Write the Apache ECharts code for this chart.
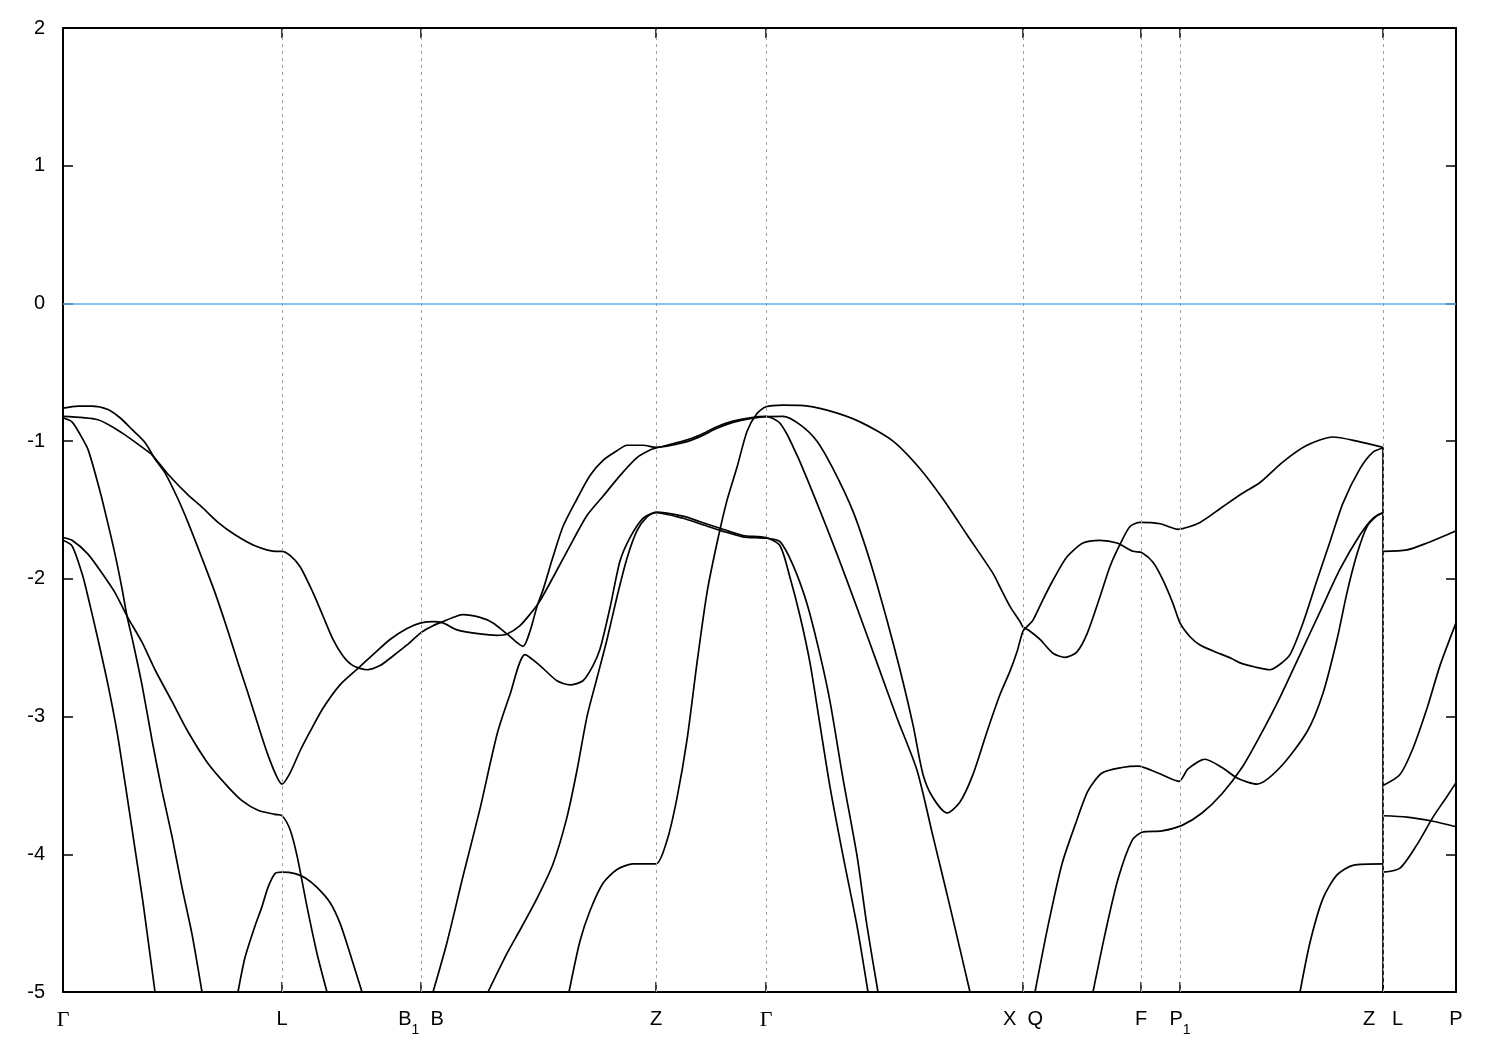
<!DOCTYPE html>
<html><head><meta charset="utf-8">
<script src="https://cdn.jsdelivr.net/npm/echarts@6/dist/echarts.min.js"></script>
<style>html,body{margin:0;padding:0;background:#fff}#chart{width:1500px;height:1050px}</style>
</head><body><div id="chart"></div>
<script>
// k-path coordinates of the high-symmetry points and their labels
const kPoints = [0, 2.19, 3.58, 5.93, 7.03, 9.60, 10.78, 11.17, 13.20, 13.93];
const kLabels = ['{g|Γ}', '{n|L}', '{n|B}{s|1}{n|  B}', '{n|Z}', '{g|Γ}', '{n|X  Q}', '{n|F}', '{n|P}{s|1}', '{n|Z   L}', '{n|P}'];
const energyMin = -5, energyMax = 2, energyStep = 1;
const fermiLevel = 0;

// band curves: [k, E(eV)]
const bandA = [[0,-0.76],[0.15,-0.745],[0.29,-0.745],[0.45,-0.77],[0.57,-0.83],[0.69,-0.915],[0.82,-1.01],[0.92,-1.13],[1.02,-1.23],[1.15,-1.42],[1.25,-1.59],[1.39,-1.85],[1.52,-2.10],[1.65,-2.38],[1.75,-2.61],[1.85,-2.83],[1.95,-3.06],[2.05,-3.28],[2.14,-3.44],[2.19,-3.49],
[2.27,-3.41],[2.37,-3.25],[2.47,-3.11],[2.60,-2.94],[2.77,-2.77],[2.95,-2.65],[3.10,-2.55],[3.27,-2.44],[3.44,-2.36],[3.58,-2.32],
[3.70,-2.31],[3.80,-2.32],[3.94,-2.37],[4.17,-2.40],[4.34,-2.41],[4.44,-2.40],[4.57,-2.34],[4.70,-2.23],[4.77,-2.16],[4.90,-1.99],[5.07,-1.76],[5.24,-1.54],[5.40,-1.40],[5.57,-1.25],[5.74,-1.12],[5.87,-1.065],[5.93,-1.05],
[6.20,-1.00],[6.37,-0.955],[6.54,-0.895],[6.70,-0.855],[6.87,-0.83],[7.03,-0.82],
[7.10,-0.835],[7.17,-0.87],[7.24,-0.95],[7.30,-1.04],[7.37,-1.15],[7.54,-1.45],[7.74,-1.82],[7.94,-2.21],[8.14,-2.61],[8.34,-3.01],[8.54,-3.39],[8.70,-3.87],[8.87,-4.38],[9.07,-5.0]];

const bandB = [[0,-0.82],[0.35,-0.845],[0.59,-0.94],[0.82,-1.06],[0.89,-1.10],[1.05,-1.24],[1.25,-1.39],[1.39,-1.48],[1.55,-1.59],[1.72,-1.68],[1.92,-1.76],[2.12,-1.80],[2.19,-1.80],
[2.27,-1.83],[2.37,-1.91],[2.50,-2.10],[2.60,-2.27],[2.70,-2.44],[2.80,-2.56],[2.90,-2.63],[3.04,-2.66],[3.17,-2.63],[3.30,-2.56],[3.44,-2.48],[3.58,-2.39],
[3.70,-2.34],[3.80,-2.31],[3.94,-2.27],[4.00,-2.26],[4.17,-2.28],[4.30,-2.32],[4.44,-2.40],[4.60,-2.49],[4.67,-2.38],[4.74,-2.20],[4.80,-2.08],[4.90,-1.84],[5.00,-1.62],[5.14,-1.42],[5.27,-1.25],[5.40,-1.14],[5.54,-1.07],[5.64,-1.03],[5.80,-1.03],[5.93,-1.045],
[6.20,-1.012],[6.37,-0.967],[6.54,-0.907],[6.70,-0.864],[6.87,-0.836],[7.03,-0.822],
[7.20,-0.82],[7.37,-0.88],[7.54,-1.0],[7.70,-1.20],[7.90,-1.51],[8.07,-1.87],[8.24,-2.30],[8.37,-2.66],[8.50,-3.06],[8.60,-3.42],[8.70,-3.59],[8.84,-3.70],[8.97,-3.62],[9.10,-3.42],[9.24,-3.11],[9.37,-2.84],[9.47,-2.67],[9.54,-2.53],[9.60,-2.38],
[9.65,-2.34],[9.70,-2.30],[9.80,-2.15],[9.90,-2.01],[10.04,-1.84],[10.20,-1.74],[10.37,-1.72],[10.54,-1.74],[10.70,-1.80],[10.79,-1.81],[10.90,-1.88],[11.00,-2.01],[11.10,-2.18],[11.17,-2.32],[11.27,-2.42],[11.37,-2.48],[11.49,-2.52],[11.69,-2.58],[11.77,-2.61],[11.92,-2.64],[12.07,-2.66],[12.17,-2.62],[12.27,-2.55],[12.40,-2.32],[12.54,-2.01],[12.67,-1.73],[12.80,-1.45],[12.97,-1.20],[13.10,-1.08],[13.20,-1.05]];

const bandT = [[5.06,-5.0],[5.17,-4.63],[5.27,-4.41],[5.40,-4.21],[5.54,-4.11],[5.70,-4.07],[5.93,-4.07],
[6.04,-3.90],[6.14,-3.59],[6.24,-3.17],[6.34,-2.61],[6.44,-2.10],[6.54,-1.74],[6.64,-1.43],[6.74,-1.19],[6.84,-0.93],[6.94,-0.80],[7.03,-0.75],
[7.20,-0.738],[7.37,-0.74],[7.64,-0.775],[7.97,-0.86],[8.30,-1.0],[8.57,-1.20],[8.80,-1.42],[9.04,-1.68],[9.30,-1.96],[9.37,-2.06],[9.47,-2.20],[9.57,-2.31],[9.60,-2.35],
[9.65,-2.37],[9.77,-2.44],[9.90,-2.54],[10.02,-2.57],[10.14,-2.53],[10.24,-2.40],[10.37,-2.13],[10.47,-1.91],[10.57,-1.75],[10.67,-1.62],[10.77,-1.59],[10.97,-1.60],[11.15,-1.64],[11.37,-1.59],[11.59,-1.48],[11.79,-1.38],[11.97,-1.30],[12.20,-1.15],[12.44,-1.03],[12.70,-0.97],[12.94,-1.0],[13.20,-1.045]];

const bandC = [[0,-0.83],[0.09,-0.86],[0.17,-0.95],[0.25,-1.06],[0.35,-1.31],[0.42,-1.51],[0.52,-1.82],[0.59,-2.07],[0.64,-2.27],[0.70,-2.46],[0.79,-2.77],[0.89,-3.17],[0.99,-3.54],[1.09,-3.87],[1.19,-4.24],[1.29,-4.58],[1.39,-5.0]];

const bandD = [[0,-1.70],[0.09,-1.72],[0.25,-1.82],[0.42,-1.99],[0.52,-2.10],[0.64,-2.27],[0.79,-2.46],[0.92,-2.66],[1.09,-2.89],[1.25,-3.11],[1.45,-3.34],[1.65,-3.51],[1.79,-3.61],[1.95,-3.68],[2.12,-3.71],[2.19,-3.72],[2.27,-3.82],[2.34,-4.01],[2.44,-4.38],[2.54,-4.72],[2.64,-5.0]];

const bandE = [[0,-1.72],[0.09,-1.76],[0.19,-1.96],[0.25,-2.13],[0.35,-2.44],[0.45,-2.77],[0.54,-3.11],[0.62,-3.48],[0.72,-3.96],[0.80,-4.35],[0.92,-5.0]];

const bandF = [[1.75,-5.0],[1.82,-4.75],[1.92,-4.52],[1.99,-4.38],[2.05,-4.24],[2.12,-4.14],[2.19,-4.13],[2.32,-4.14],[2.42,-4.17],[2.54,-4.24],[2.67,-4.35],[2.77,-4.50],[2.87,-4.72],[2.99,-5.0]];

const bandH = [[3.70,-5.0],[3.84,-4.64],[4.00,-4.16],[4.17,-3.67],[4.34,-3.13],[4.47,-2.84],[4.62,-2.55],[4.77,-2.63],[4.94,-2.74],[5.07,-2.77],[5.20,-2.74],[5.30,-2.63],[5.37,-2.51],[5.47,-2.21],[5.57,-1.87],[5.67,-1.70],[5.80,-1.56],[5.93,-1.52],
[6.20,-1.56],[6.37,-1.60],[6.60,-1.655],[6.80,-1.695],[7.03,-1.705],
[7.17,-1.73],[7.30,-1.90],[7.44,-2.18],[7.57,-2.55],[7.67,-2.89],[7.80,-3.45],[7.94,-4.01],[8.04,-4.52],[8.15,-5.0]];

const bandG = [[4.25,-5.0],[4.44,-4.72],[4.57,-4.55],[4.74,-4.32],[4.90,-4.07],[5.04,-3.73],[5.14,-3.39],[5.24,-3.0],[5.34,-2.72],[5.44,-2.44],[5.54,-2.13],[5.64,-1.85],[5.74,-1.65],[5.84,-1.55],[5.93,-1.515],
[6.20,-1.545],[6.37,-1.585],[6.60,-1.64],[6.80,-1.685],[7.03,-1.70],
[7.17,-1.76],[7.27,-1.99],[7.37,-2.27],[7.47,-2.61],[7.57,-3.06],[7.67,-3.51],[7.80,-4.01],[7.94,-4.52],[8.05,-5.0]];

const bandQ1 = [[9.72,-5.0],[9.85,-4.52],[9.99,-4.07],[10.12,-3.79],[10.25,-3.54],[10.39,-3.41],[10.59,-3.37],[10.75,-3.36],[10.95,-3.41],[11.16,-3.47],[11.25,-3.38],[11.42,-3.31],[11.59,-3.37],[11.75,-3.45],[11.94,-3.49],[12.17,-3.37],[12.44,-3.11],[12.60,-2.83],[12.74,-2.44],[12.84,-2.10],[12.94,-1.82],[13.04,-1.62],[13.14,-1.54],[13.20,-1.52]];

const bandQ2 = [[10.30,-5.0],[10.42,-4.58],[10.55,-4.18],[10.69,-3.90],[10.79,-3.84],[10.99,-3.83],[11.19,-3.79],[11.39,-3.70],[11.59,-3.56],[11.79,-3.37],[11.97,-3.14],[12.17,-2.86],[12.37,-2.55],[12.57,-2.24],[12.77,-1.93],[12.97,-1.68],[13.10,-1.56],[13.20,-1.52]];

const bandZ = [[12.37,-5.0],[12.47,-4.64],[12.60,-4.32],[12.74,-4.15],[12.90,-4.08],[13.20,-4.07]];

const bandLP1 = [[13.20,-1.80],[13.44,-1.79],[13.64,-1.74],[13.84,-1.68],[13.93,-1.65]];
const bandLP2 = [[13.20,-3.50],[13.37,-3.42],[13.50,-3.23],[13.64,-2.94],[13.77,-2.63],[13.93,-2.32]];
const bandLP3 = [[13.20,-3.72],[13.44,-3.73],[13.70,-3.76],[13.93,-3.80]];
const bandLP4 = [[13.20,-4.13],[13.37,-4.10],[13.54,-3.93],[13.70,-3.73],[13.84,-3.58],[13.93,-3.48]];

const bands = [bandA, bandB, bandT, bandC, bandD, bandE, bandF, bandH, bandG, bandQ1, bandQ2, bandZ, bandLP1, bandLP2, bandLP3, bandLP4];

// discontinuity Z|L: vertical segment built from band values at that k
const kJump = kPoints[8];
let jumpTop = energyMin;
bands.forEach(b => b.forEach(p => { if (Math.abs(p[0] - kJump) < 1e-9 && p[1] > jumpTop) jumpTop = p[1]; }));

const chart = echarts.init(document.getElementById('chart'), null, {renderer: 'canvas'});
const lineStyle = {color: '#000', width: 1.7};
const series = bands.map(b => ({
  type: 'line', data: b, showSymbol: false, smooth: 0.25, z: 3,
  lineStyle: lineStyle, silent: true, animation: false
}));
series.push({type: 'line', data: [[kJump, jumpTop], [kJump, energyMin]], showSymbol: false, z: 3, lineStyle: lineStyle, silent: true});
series.push({
  type: 'line', data: [], z: 1, silent: true,
  markLine: {
    silent: true, symbol: 'none', animation: false, label: {show: false},
    data: kPoints.slice(1, -1).map(k => ({xAxis: k, lineStyle: {color: '#a0a0a0', type: [3, 4], width: 1}}))
      .concat([{yAxis: fermiLevel, lineStyle: {color: '#56b4e9', type: 'solid', width: 1.5}}])
  }
});

const rich = {
  n: {fontSize: 20, lineHeight: 22, verticalAlign: 'top', fontFamily: 'Liberation Sans', color: '#000'},
  g: {fontSize: 22, lineHeight: 22, verticalAlign: 'top', fontFamily: 'Liberation Serif', color: '#000'},
  s: {fontSize: 14, lineHeight: 28, verticalAlign: 'bottom', fontFamily: 'Liberation Sans', color: '#000'}
};
function labelFor(v) {
  let best = 0, d = 1e9;
  kPoints.forEach((k, i) => { if (Math.abs(k - v) < d) { d = Math.abs(k - v); best = i; } });
  return kLabels[best];
}
const axisLineStyle = {show: true, onZero: false, lineStyle: {color: '#000', width: 2}};
const tickStyle = {inside: true, length: 10, lineStyle: {color: '#000', width: 1.5}};

chart.setOption({
  animation: false,
  backgroundColor: '#fff',
  grid: {left: 63, right: 44, top: 28, bottom: 58, containLabel: false, outerBoundsMode: 'none', show: false},
  xAxis: [
    {type: 'value', min: kPoints[0], max: kPoints[kPoints.length - 1], position: 'bottom',
     axisLine: axisLineStyle, splitLine: {show: false},
     axisTick: Object.assign({customValues: kPoints}, tickStyle),
     axisLabel: {customValues: kPoints, margin: 17, formatter: v => labelFor(v), rich: rich, fontSize: 20, fontFamily: 'Liberation Sans', color: '#000'}},
    {type: 'value', min: kPoints[0], max: kPoints[kPoints.length - 1], position: 'top',
     axisLine: axisLineStyle, splitLine: {show: false},
     axisTick: Object.assign({customValues: kPoints}, tickStyle),
     axisLabel: {show: false}}
  ],
  yAxis: [
    {type: 'value', min: energyMin, max: energyMax, interval: energyStep, position: 'left',
     axisLine: axisLineStyle, splitLine: {show: false},
     axisTick: tickStyle,
     axisLabel: {fontSize: 20, fontFamily: 'Liberation Sans', color: '#000', margin: 18}},
    {type: 'value', min: energyMin, max: energyMax, interval: energyStep, position: 'right',
     axisLine: axisLineStyle, splitLine: {show: false},
     axisTick: tickStyle, axisLabel: {show: false}}
  ],
  series: series
});
</script></body></html>
